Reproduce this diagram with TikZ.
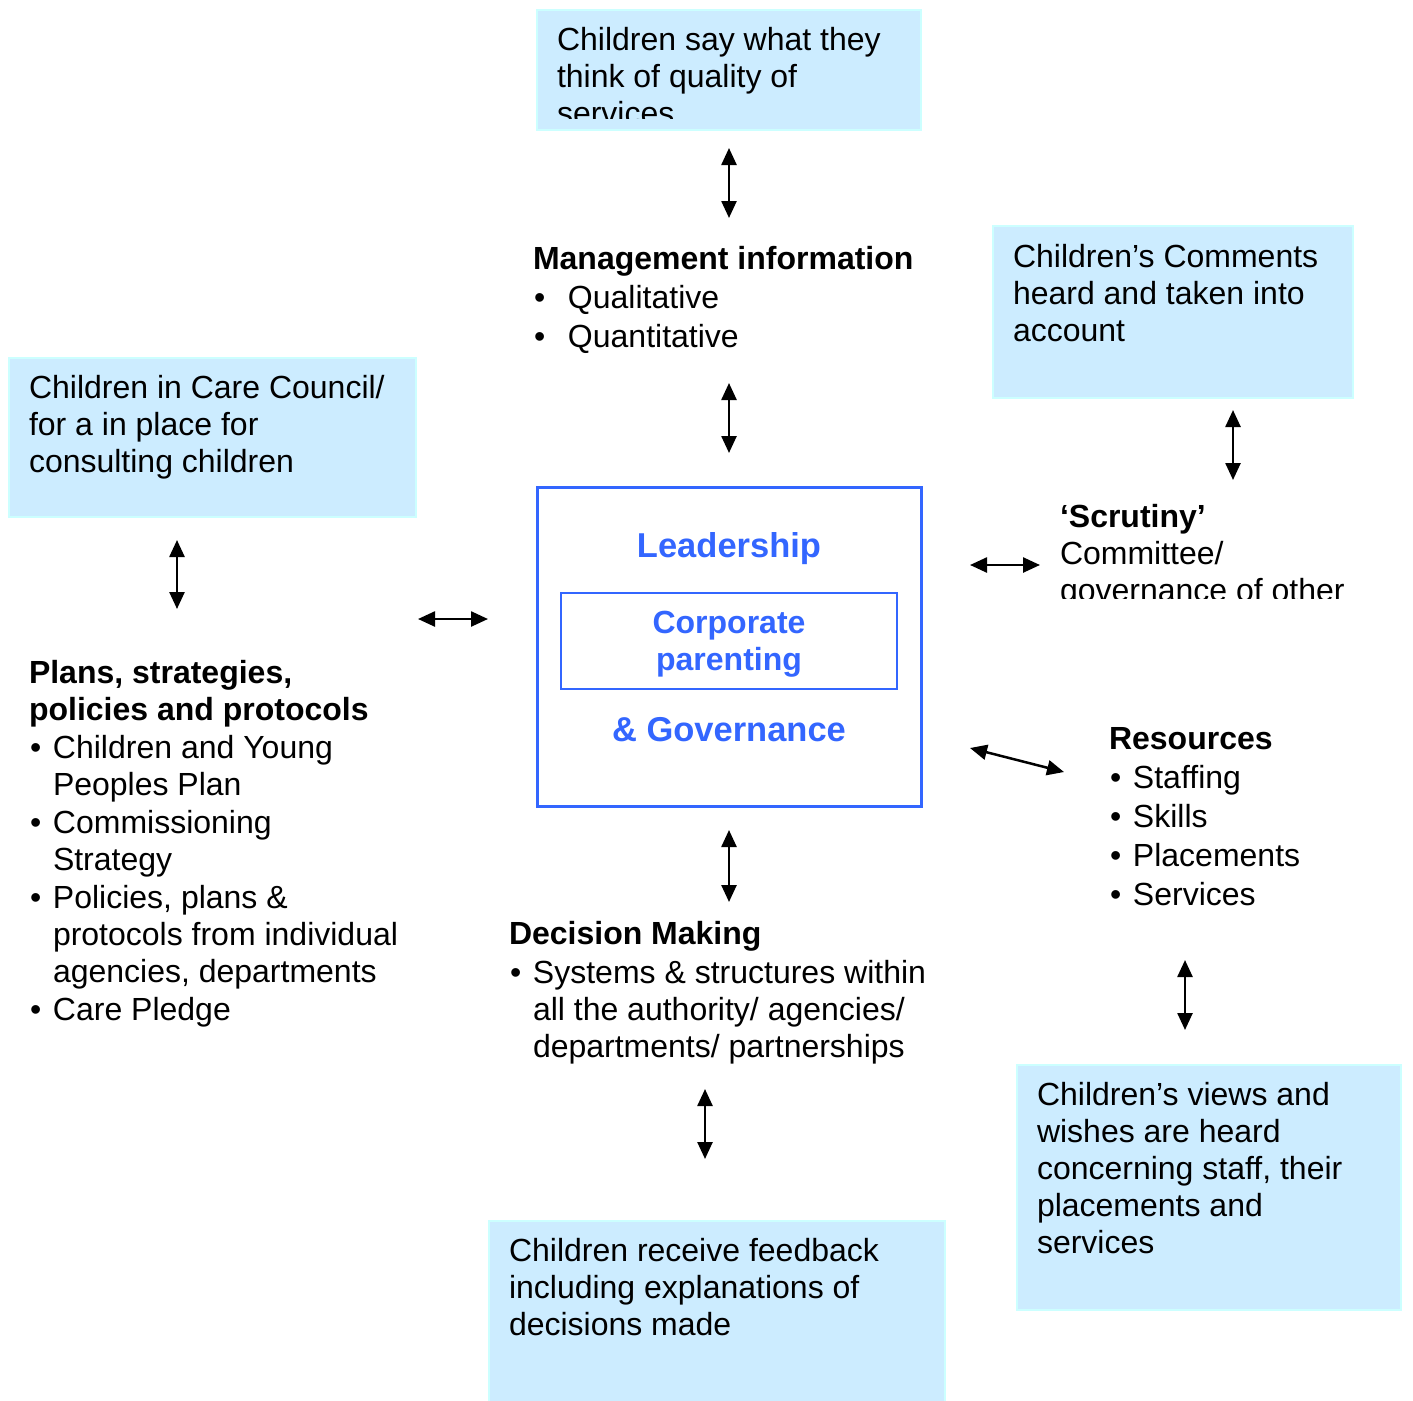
\documentclass[tikz,border=0pt]{standalone}
\usepackage{fontspec}
\setmainfont{Liberation Sans}
\usetikzlibrary{arrows.meta}
\definecolor{boxfill}{RGB}{204,236,255}
\definecolor{boxline}{RGB}{204,255,255}
\definecolor{govblue}{RGB}{51,102,255}
\newcommand\bl[1]{\makebox[#1pt][l]{\hspace{1pt}\textbullet}}
\newcommand\lines[1]{\begin{tabular}[t]{@{}l@{}}#1\end{tabular}}
\tikzset{
  every node/.style={inner sep=0pt, outer sep=0pt},
  infobox/.style={draw=boxline, fill=boxfill, line width=2pt, anchor=north west},
  txt/.style={anchor=base west, align=left, font=\fontsize{32}{37}\selectfont},
  ctr/.style={anchor=base, text=govblue, font=\fontsize{34.5}{40}\selectfont\bfseries},
  ctrs/.style={anchor=base, text=govblue, font=\fontsize{32}{37}\selectfont\bfseries},
  dbl/.style={{Triangle[length=17pt,width=15pt]}-{Triangle[length=17pt,width=15pt]}, line width=2.5pt},
}
\begin{document}
\begin{tikzpicture}[x=1pt,y=-1pt]
\useasboundingbox (0,0) rectangle (1413,1400);

% boxes
\node[infobox, minimum width=384, minimum height=120] (topbox) at (537,10) {};
\node[infobox, minimum width=360, minimum height=172] (rtbox) at (993,226) {};
\node[infobox, minimum width=407, minimum height=159] (ltbox) at (9,358) {};
\node[infobox, minimum width=384, minimum height=245] (rbbox) at (1017,1065) {};
\node[infobox, minimum width=456, minimum height=190] (botbox) at (489,1221) {};

% central box
\node[draw=govblue, line width=3pt, anchor=north west, minimum width=384, minimum height=319] (centre) at (537,487) {};
\node[draw=govblue, line width=1.5pt, anchor=north west, minimum width=336, minimum height=96] (inner) at (561,593) {};
\node[ctr] (lead) at (729,557) {Leadership};
\node[ctrs] (corp) at (729,633) {Corporate};
\node[ctrs] (par) at (729,670) {parenting};
\node[ctr] (gov) at (729,741) {\& Governance};

% box texts
\begin{scope}
\clip (537,10) rectangle (921,118);
\node[txt] (toptxt) at (557,50) {\lines{Children say what they\\think of quality of\\services}};
\end{scope}
\node[txt] (rttxt) at (1013,267) {\lines{Children’s Comments\\heard and taken into\\account}};
\node[txt] (lttxt) at (29,398) {\lines{Children in Care Council/\\for a in place for\\consulting children}};
\node[txt] (rbtxt) at (1037,1105) {\lines{Children’s views and\\wishes are heard\\concerning staff, their\\placements and\\services}};
\node[txt] (bottxt) at (509,1261) {\lines{Children receive feedback\\including explanations of\\decisions made}};

% free texts
\node[txt] (mgmt) at (533,269) {\begin{tabular}[t]{@{}l@{}l@{}}
\multicolumn{2}{@{}l@{}}{\bfseries Management information}\\[2pt]
\bl{35}&Qualitative\\[2pt]
\bl{35}&Quantitative
\end{tabular}};

\begin{scope}
\clip (1050,480) rectangle (1413,598);
\node[txt] (scrut) at (1060,527) {\lines{\textbf{‘Scrutiny’}\\Committee/\\governance of other}};
\end{scope}

\node[txt] (plans) at (29,683) {\begin{tabular}[t]{@{}l@{}l@{}}
\multicolumn{2}{@{}l@{}}{\bfseries Plans, strategies,}\\
\multicolumn{2}{@{}l@{}}{\bfseries policies and protocols}\\[1pt]
\bl{24}&Children and Young\\
&Peoples Plan\\[1pt]
\bl{24}&Commissioning\\
&Strategy\\[1pt]
\bl{24}&Policies, plans \&\\
&protocols from individual\\
&agencies, departments\\[1pt]
\bl{24}&Care Pledge
\end{tabular}};

\node[txt] (res) at (1109,749) {\begin{tabular}[t]{@{}l@{}l@{}}
\multicolumn{2}{@{}l@{}}{\bfseries Resources}\\[2pt]
\bl{24}&Staffing\\[2pt]
\bl{24}&Skills\\[2pt]
\bl{24}&Placements\\[2pt]
\bl{24}&Services
\end{tabular}};

\node[txt] (dec) at (509,944) {\begin{tabular}[t]{@{}l@{}l@{}}
\multicolumn{2}{@{}l@{}}{\bfseries Decision Making}\\[2pt]
\bl{24}&Systems \& structures within\\
&all the authority/ agencies/\\
&departments/ partnerships
\end{tabular}};

% arrows
\coordinate (a1s) at (729,148); \coordinate (a1e) at (729,218);
\coordinate (a2s) at (729,383); \coordinate (a2e) at (729,453);
\coordinate (a3s) at (1233,410); \coordinate (a3e) at (1233,480);
\coordinate (a4s) at (970,565); \coordinate (a4e) at (1040,565);
\coordinate (a5s) at (177,540); \coordinate (a5e) at (177,609);
\coordinate (a6s) at (418,619); \coordinate (a6e) at (488,619);
\coordinate (a7s) at (970,748); \coordinate (a7e) at (1064,772);
\coordinate (a8s) at (1185,960); \coordinate (a8e) at (1185,1030);
\coordinate (a9s) at (729,830); \coordinate (a9e) at (729,902);
\coordinate (a10s) at (705,1089); \coordinate (a10e) at (705,1159);
\foreach \i in {1,...,10} \draw[dbl] (a\i s) -- (a\i e);
\end{tikzpicture}
\end{document}
